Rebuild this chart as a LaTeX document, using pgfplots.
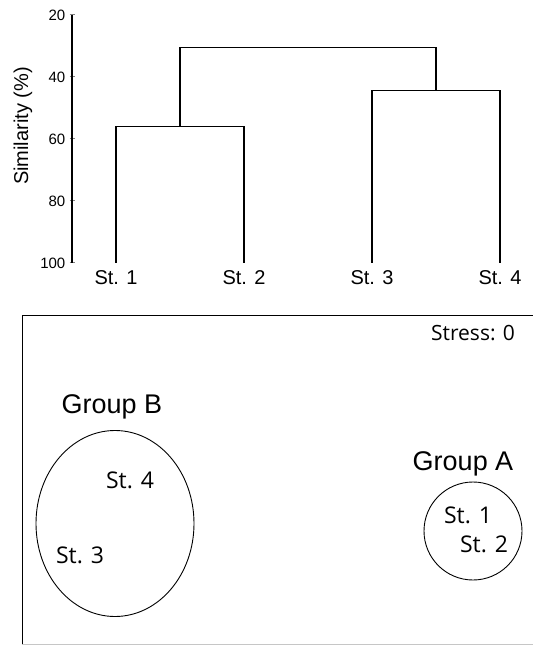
\documentclass[border=0pt]{standalone}
\usepackage{pgfplots}
\pgfplotsset{compat=1.18}
\usepackage{fontspec}
\setmainfont{Liberation Sans}
\newfontfamily\opensans{Open Sans}
\begin{document}
\begin{tikzpicture}[x=1pt,y=1pt]
\path[use as bounding box] (0,0) rectangle (533,648);
\node[rotate=90, font=\fontsize{20}{24}\selectfont, inner sep=0pt] at (23,522) {Similarity (\%)};
\begin{axis}[at={(72pt,385pt)}, anchor=south west, scale only axis,
  width=461pt, height=248pt,
  xmin=0.65625, xmax=4.2578, ymin=20, ymax=100, y dir=reverse,
  axis x line*=bottom, axis y line*=left,
  x axis line style={draw=none},
  y axis line style={-, line width=1.1pt},
  xtick={1,2,3,4}, xticklabels={St. 1,St. 2,St. 3,St. 4},
  xtick style={draw=none},
  ytick={20,40,60,80,100},
  ytick style={line width=1pt},
  tick align=center, major tick length=5pt,
  /pgf/number format/assume math mode=true,
  yticklabel style={font=\fontsize{15}{18}\selectfont, inner sep=0pt, xshift=-4pt},
  xticklabel style={font=\fontsize{20}{24}\selectfont, inner sep=0pt, yshift=-5pt},
  clip=false]
\addplot[black, line width=1.1pt] coordinates {(1,100) (1,56) (2,56) (2,100)};
\addplot[black, line width=1.1pt] coordinates {(3,100) (3,44.5) (4,44.5) (4,100)};
\addplot[black, line width=1.1pt] coordinates {(1.5,56) (1.5,30.5) (3.5,30.5) (3.5,44.5)};
\end{axis}
\begin{axis}[at={(22pt,4pt)}, anchor=south west, scale only axis,
  width=511pt, height=329pt,
  xmin=22, xmax=533, ymin=315, ymax=644, y dir=reverse,
  hide axis, clip=false]
\draw[line width=1pt] (axis cs:22,644) -- (axis cs:22,315) -- (axis cs:533,315);
\draw[gray!45, line width=1pt] (axis cs:22,644) -- (axis cs:533,644);
\draw[line width=0.9pt] (axis cs:115,523.5) ellipse [x radius=79pt, y radius=93pt];
\draw[line width=0.9pt] (axis cs:473,531) circle [radius=49pt];
\node[anchor=base, inner sep=0pt, font=\opensans\fontsize{21}{25}\selectfont] at (axis cs:473,340) {Stress: 0};
\node[anchor=base, inner sep=0pt, font=\fontsize{27}{32}\selectfont] at (axis cs:112,413) {Group B};
\node[anchor=base, inner sep=0pt, font=\fontsize{27}{32}\selectfont] at (axis cs:463,470) {Group A};
\node[anchor=base, inner sep=0pt, font=\opensans\fontsize{23}{27}\selectfont] at (axis cs:130,488) {St. 4};
\node[anchor=base, inner sep=0pt, font=\opensans\fontsize{23}{27}\selectfont] at (axis cs:80,563) {St. 3};
\node[anchor=base, inner sep=0pt, font=\opensans\fontsize{23}{27}\selectfont] at (axis cs:468,523) {St. 1};
\node[anchor=base, inner sep=0pt, font=\opensans\fontsize{23}{27}\selectfont] at (axis cs:484,552) {St. 2};
\end{axis}
\end{tikzpicture}
\end{document}
